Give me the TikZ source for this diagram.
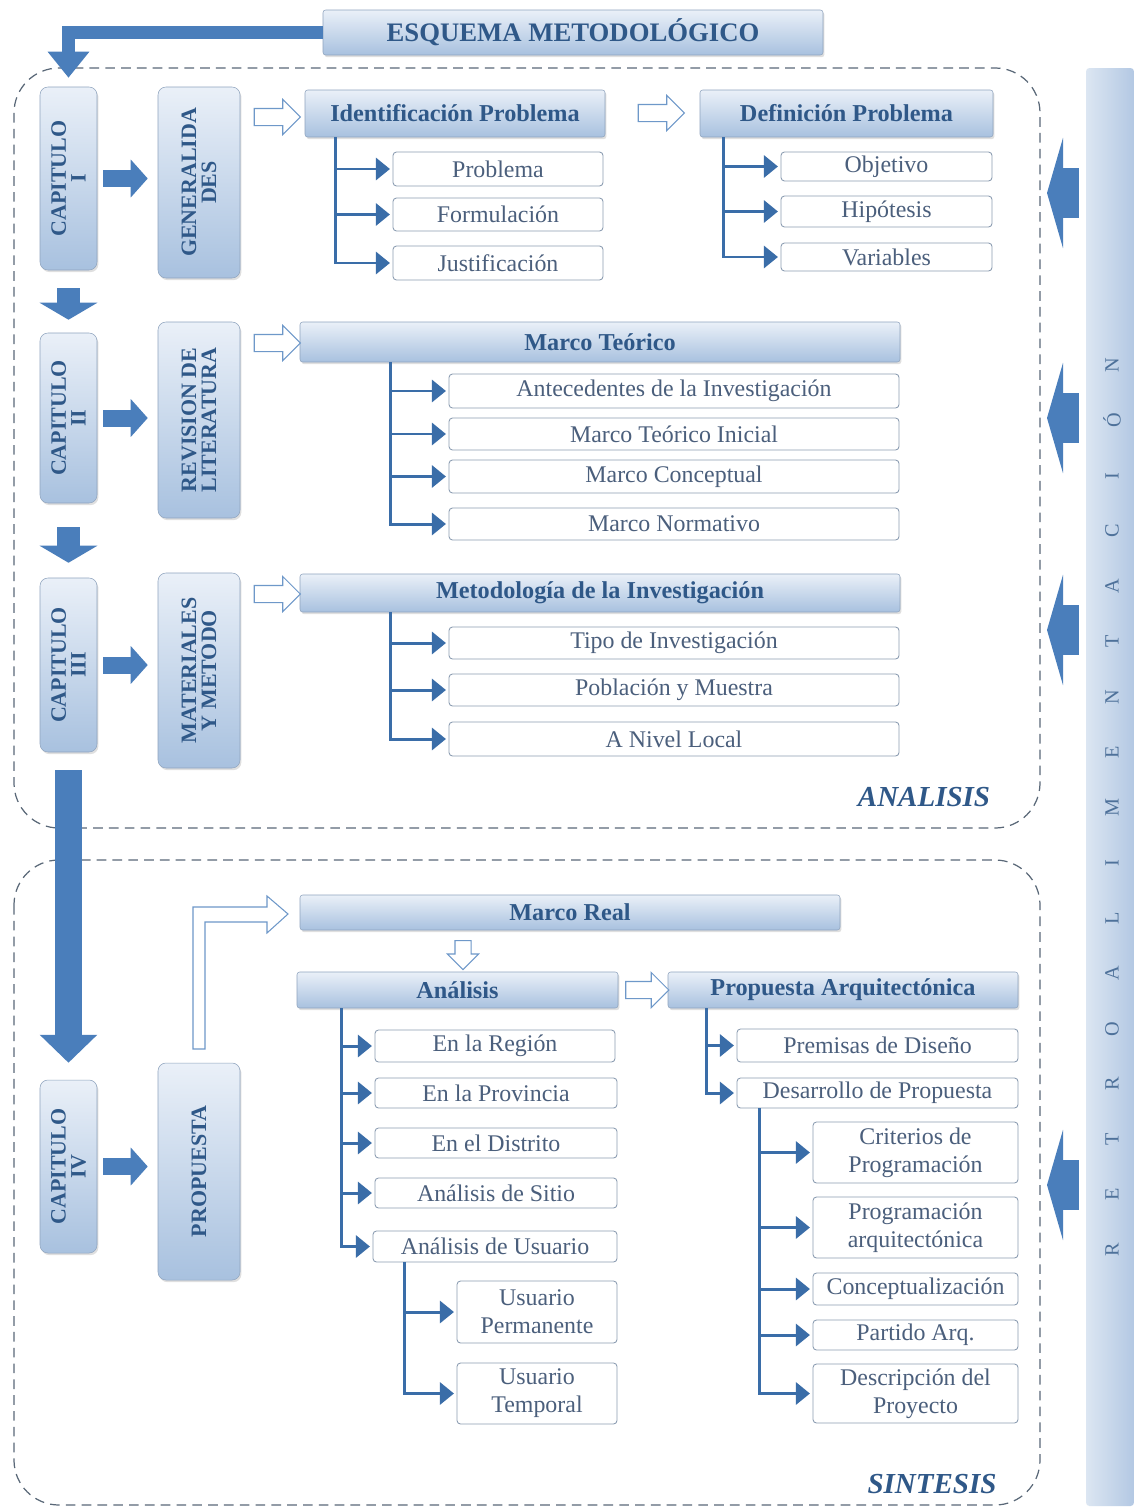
\documentclass[tikz,border=0pt]{standalone}
\usepackage{fontspec}
\setmainfont{Liberation Serif}
\usetikzlibrary{arrows.meta,shapes.arrows,shadows}

\definecolor{fatblue}{HTML}{4A7EBB}
\definecolor{linkblue}{HTML}{3A6DA8}
\definecolor{hdrtop}{HTML}{EAF0F8}
\definecolor{hdrbot}{HTML}{A8C1DF}
\definecolor{hdrtext}{HTML}{2F5888}
\definecolor{subtext}{HTML}{4B5F7C}
\definecolor{subdraw}{HTML}{8C9DB2}
\definecolor{dashgray}{HTML}{5A6878}
\definecolor{retroleft}{HTML}{DCE6F2}
\definecolor{retroright}{HTML}{B3C8E3}

\def \titleStr {ESQUEMA METODOL\'OGICO}
\def \analysisStr {ANALISIS}
\def \synthesisStr {SINTESIS}
\def \identProblemStr {Identificaci\'on Problema}
\def \defProblemStr {Definici\'on Problema}
\def \theoryStr {Marco Te\'orico}
\def \methodStr {Metodolog\'ia de la Investigaci\'on}
\def \realStr {Marco Real}
\def \analysisBoxStr {An\'alisis}
\def \proposalStr {Propuesta Arquitect\'onica}

\begin{document}
\begin{tikzpicture}[x=0.02cm, y=-0.02cm,
  sz/.style 2 args={minimum width=#1*0.02cm, minimum height=#2*0.02cm},
  hdr/.style={inner sep=0pt, rounded corners=1.5pt, draw=hdrbot!85!black, line width=0.3pt,
    top color=hdrtop, bottom color=hdrbot, text=hdrtext,
    font=\fontsize{13.8}{15}\selectfont\bfseries,
    drop shadow={shadow xshift=0.8pt, shadow yshift=-1.2pt, opacity=0.25}},
  capbox/.style={hdr, rounded corners=4.5pt, font=\fontsize{12.5}{12.5}\selectfont\bfseries},
  subbox/.style={inner sep=0pt, rounded corners=2pt, draw=subdraw, line width=0.5pt, fill=white,
    text=subtext, align=center, font=\fontsize{13.6}{16}\selectfont},
  branch/.style={draw=linkblue, line width=1.7pt, shorten >=1.5pt,
    -{Triangle[length=0.28cm, width=0.44cm]}},
  fat/.style={draw=fatblue, line width=0.34cm, -{Triangle[length=0.34cm, width=0.74cm]}},
  downfat/.style={draw=fatblue, line width=0.48cm, -{Triangle[length=0.34cm, width=1.14cm]}},
  fback/.style={draw=fatblue, line width=1cm, -{Triangle[length=0.32cm, width=2.2cm]}},
  hollow/.style={single arrow, draw=fatblue!80, fill=white, line width=0.6pt, inner sep=0.16cm,
    minimum height=0.92cm, minimum width=0.68cm, single arrow head extend=0.18cm},
  regionline/.style={draw=dashgray, line width=0.7pt, dash pattern=on 5.5pt off 3.5pt, rounded corners=0.9cm},
  regionlbl/.style={text=hdrtext, font=\fontsize{16.5}{18}\selectfont\bfseries\itshape},
  retroletter/.style={rotate=90, text=hdrtext!85, font=\fontsize{11.5}{12}\selectfont}]

\useasboundingbox[fill=white] (0,0) rectangle (1134,1511);

% regions
\draw[regionline] (14,68) rectangle (1040,828);
\draw[regionline] (14,860) rectangle (1040,1505);
\node[regionlbl] (anal) at (924,797) {\analysisStr};
\node[regionlbl] (sint) at (932,1484) {\synthesisStr};

% feedback bar
\node[sz={48}{1438}, inner sep=0pt, rounded corners=2pt,
  left color=retroleft, right color=retroright] (retro) at (1110,787) {};
\foreach \ch [count=\i from 0] in {R,E,T,R,O,A,L,I,M,E,N,T,A,C,I,Ó,N}
  \node[retroletter] (rl\i) at (1112, {1250-55.3*\i}) {\ch};

% title
\node[hdr, sz={500}{45}, font=\fontsize{15.2}{17}\selectfont\bfseries] (title) at (573,32.5) {\titleStr};

% chapters
\node[capbox, sz={57}{183}] (cap1) at (68.5,178.5) {\rotatebox{90}{\shortstack{CAPITULO\\I}}};
\node[capbox, sz={57}{170}] (cap2) at (68.5,418) {\rotatebox{90}{\shortstack{CAPITULO\\II}}};
\node[capbox, sz={57}{174}] (cap3) at (68.5,665) {\rotatebox{90}{\shortstack{CAPITULO\\III}}};
\node[capbox, sz={57}{173}] (cap4) at (68.5,1166.5) {\rotatebox{90}{\shortstack{CAPITULO\\IV}}};

\node[capbox, sz={82}{191}] (gen) at (199,182.5) {\rotatebox{90}{\shortstack{GENERALIDA\\DES}}};
\node[capbox, sz={82}{196}] (rev) at (199,420) {\rotatebox{90}{\shortstack{REVISION DE\\LITERATURA}}};
\node[capbox, sz={82}{195}] (mat) at (199,670.5) {\rotatebox{90}{\shortstack{MATERIALES\\Y METODO}}};
\node[capbox, sz={82}{217}] (prop) at (199,1171.5) {\rotatebox{90}{PROPUESTA}};

% headers
\node[hdr, sz={300}{47}] (idp) at (455,113.5) {\identProblemStr};
\node[hdr, sz={293}{47}] (dfp) at (846.5,113.5) {\defProblemStr};
\node[hdr, sz={600}{40}] (mteo) at (600,342) {\theoryStr};
\node[hdr, sz={600}{38}] (meto) at (600,593) {\methodStr};
\node[hdr, sz={540}{35}] (mreal) at (570,912.5) {\realStr};
\node[hdr, sz={321}{36}] (ana) at (457.5,990) {\analysisBoxStr};
\node[hdr, sz={350}{36}] (parq) at (843,990) {\proposalStr};

% sub boxes
\node[subbox, sz={210}{34}] (prob) at (498,169) {Problema};
\node[subbox, sz={210}{33}] (form) at (498,214.5) {Formulación};
\node[subbox, sz={210}{34}] (just) at (498,263) {Justificación};
\node[subbox, sz={211}{29}] (obj) at (886.5,166.5) {Objetivo};
\node[subbox, sz={211}{31}] (hip) at (886.5,211.5) {Hipótesis};
\node[subbox, sz={211}{28}] (var) at (886.5,257) {Variables};

\node[subbox, sz={450}{34}] (ante) at (674,391) {Antecedentes de la Investigación};
\node[subbox, sz={450}{32}] (mti) at (674,434) {Marco Teórico Inicial};
\node[subbox, sz={450}{33}] (mcon) at (674,476.5) {Marco Conceptual};
\node[subbox, sz={450}{32}] (mnor) at (674,524) {Marco Normativo};

\node[subbox, sz={450}{32}] (tipo) at (674,643) {Tipo de Investigación};
\node[subbox, sz={450}{32}] (pobl) at (674,690) {Población y Muestra};
\node[subbox, sz={450}{34}] (local) at (674,739) {A Nivel Local};

\node[subbox, sz={240}{32}] (reg) at (495,1046) {En la Región};
\node[subbox, sz={242}{30}] (prov) at (496,1093) {En la Provincia};
\node[subbox, sz={242}{30}] (dist) at (496,1143) {En el Distrito};
\node[subbox, sz={242}{30}] (sitio) at (496,1193) {Análisis de Sitio};
\node[subbox, sz={244}{31}] (usu) at (495,1246.5) {Análisis de Usuario};
\node[subbox, sz={160}{62}] (uperm) at (537,1312) {Usuario\\Permanente};
\node[subbox, sz={160}{61}] (utemp) at (537,1393.5) {Usuario\\Temporal};

\node[subbox, sz={281}{33}] (prem) at (877.5,1045.5) {Premisas de Diseño};
\node[subbox, sz={281}{30}] (desa) at (877.5,1093) {Desarrollo de Propuesta};
\node[subbox, sz={205}{61}] (crit) at (915.5,1152.5) {Criterios de\\Programación};
\node[subbox, sz={205}{61}] (parqt) at (915.5,1227.5) {Programación\\arquitectónica};
\node[subbox, sz={205}{32}] (conc) at (915.5,1289) {Conceptualización};
\node[subbox, sz={205}{30}] (part) at (915.5,1335) {Partido Arq.};
\node[subbox, sz={205}{59}] (desc) at (915.5,1393.5) {Descripción del\\Proyecto};

% trees
\coordinate (idpT) at ([xshift=0.62cm]idp.south west);
\foreach \b in {prob,form,just} \draw[branch] (idpT) |- (\b.west);
\coordinate (dfpT) at ([xshift=0.48cm]dfp.south west);
\foreach \b in {obj,hip,var} \draw[branch] (dfpT) |- (\b.west);
\coordinate (mteoT) at ([xshift=1.82cm]mteo.south west);
\foreach \b in {ante,mti,mcon,mnor} \draw[branch] (mteoT) |- (\b.west);
\coordinate (metoT) at ([xshift=1.82cm]meto.south west);
\foreach \b in {tipo,pobl,local} \draw[branch] (metoT) |- (\b.west);
\coordinate (anaT) at ([xshift=0.9cm]ana.south west);
\foreach \b in {reg,prov,dist,sitio,usu} \draw[branch] (anaT) |- (\b.west);
\coordinate (usuT) at ([xshift=0.64cm]usu.south west);
\foreach \b in {uperm,utemp} \draw[branch] (usuT) |- (\b.west);
\coordinate (parqT) at ([xshift=0.78cm]parq.south west);
\foreach \b in {prem,desa} \draw[branch] (parqT) |- (\b.west);
\coordinate (desaT) at ([xshift=0.46cm]desa.south west);
\foreach \b in {crit,parqt,conc,part,desc} \draw[branch] (desaT) |- (\b.west);

% solid arrows
\draw[fat, line width=0.28cm, -{Triangle[length=0.52cm, width=0.8cm]}, shorten >=0.18cm]
  (title.west) -| (cap1.north);
\draw[downfat, shorten <=0.36cm, shorten >=0.26cm] (cap1) -- (cap2);
\draw[downfat, shorten <=0.48cm, shorten >=0.3cm] (cap2) -- (cap3);
\draw[downfat, line width=0.56cm, -{Triangle[length=0.56cm, width=1.12cm]},
  shorten <=0.36cm, shorten >=0.34cm] (cap3) -- (cap4);
\draw[fat, shorten <=0.12cm, shorten >=0.2cm] (cap1) -- (cap1 -| gen.west);
\draw[fat, shorten <=0.12cm, shorten >=0.2cm] (cap2) -- (cap2 -| rev.west);
\draw[fat, shorten <=0.12cm, shorten >=0.2cm] (cap3) -- (cap3 -| mat.west);
\draw[fat, shorten <=0.12cm, shorten >=0.2cm] (cap4) -- (cap4 -| prop.west);

% feedback arrows
\coordinate (fb1) at (1047,193);
\coordinate (fb2) at (1047,418);
\coordinate (fb3) at (1047,630);
\coordinate (fb4) at (1047,1185);
\foreach \f in {fb1,fb2,fb3,fb4} \draw[fback, shorten <=0.14cm] (retro.west |- \f) -- (\f);

% hollow arrows
\node[hollow] (h1) at (273,117) {};
\node[hollow] (h2) at (657,113) {};
\node[hollow] (h3) at (273,343) {};
\node[hollow] (h4) at (273,594) {};
\node[hollow, minimum height=0.58cm, minimum width=0.62cm, inner sep=0.15cm,
  single arrow head extend=0.15cm, shape border rotate=270] (h5) at (463,951) {};
\node[hollow, minimum height=0.86cm] (h6) at (643,990) {};
\draw[draw=fatblue!80, fill=white, line width=0.6pt]
  (193,1049) -- (193,907) -- (267,907) -- (267,896) -- (288,914) -- (267,933)
  -- (267,922) -- (205,922) -- (205,1049) -- cycle;

\end{tikzpicture}
\end{document}
